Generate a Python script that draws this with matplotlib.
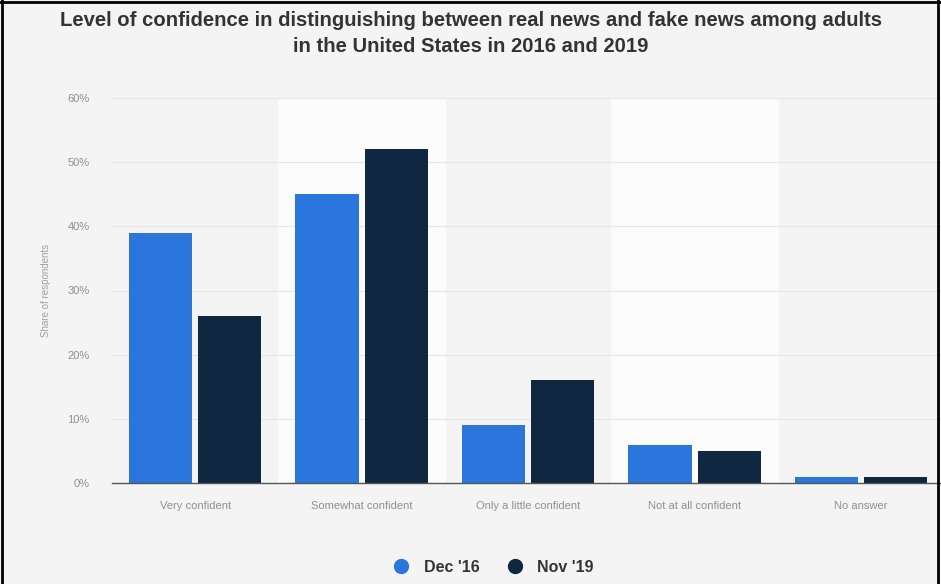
import matplotlib.pyplot as plt
from matplotlib.lines import Line2D
import numpy as np

categories = ['Very confident', 'Somewhat confident', 'Only a little confident',
              'Not at all confident', 'No answer']
dec_16 = [39, 45, 9, 6, 1]
nov_19 = [26, 52, 16, 5, 1]
series_names = ["Dec '16", "Nov '19"]
colors = ['#2a76dd', '#0f2740']

plt.rcParams['font.family'] = ['Liberation Sans', 'DejaVu Sans']

fig = plt.figure(figsize=(9.41, 5.84), dpi=100, facecolor='#f4f4f4')
ax = fig.add_axes([112 / 941, 101 / 584, 829 / 941, 385 / 584])
ax.set_facecolor('#f4f4f4')

x = np.arange(len(categories))
w = 0.38
gap = 0.018
ax.bar(x - w / 2 - gap, dec_16, width=w, color=colors[0], zorder=3)
ax.bar(x + w / 2 + gap, nov_19, width=w, color=colors[1], zorder=3)

# alternating light column bands
for i in range(len(categories)):
    if i % 2 == 1:
        ax.axvspan(i - 0.5, i + 0.5, color='#fbfbfb', zorder=0)

ax.set_xlim(-0.5, 4.48)
ax.set_ylim(0, 60)
ax.set_yticks(range(0, 61, 10))
ax.set_yticklabels([f'{v}%' for v in range(0, 61, 10)])
ax.set_xticks(x)
ax.set_xticklabels(categories)
ax.tick_params(axis='both', length=0, colors='#8f8f8f', labelsize=8)
ax.tick_params(axis='x', pad=13)
ax.tick_params(axis='y', pad=16)
ax.grid(axis='y', color='#e6e6e6', linewidth=0.8, zorder=1)
for s in ['top', 'right', 'left']:
    ax.spines[s].set_visible(False)
ax.spines['bottom'].set_color('#555555')
ax.spines['bottom'].set_linewidth(1)
ax.spines['bottom'].set_zorder(4)
ax.set_ylabel('Share of respondents', color='#a0a0a0', fontsize=7, labelpad=12)

fig.text(0.5, 1 - 20 / 584, 'Level of confidence in distinguishing between real news and fake news among adults',
         ha='center', va='center', fontsize=14.6, fontweight='bold', color='#333333')
fig.text(0.5, 1 - 47 / 584, 'in the United States in 2016 and 2019',
         ha='center', va='center', fontsize=14.6, fontweight='bold', color='#333333')

handles = [Line2D([], [], marker='o', linestyle='', markersize=10, color=c) for c in colors]
fig.legend(handles, series_names, loc='center', bbox_to_anchor=(0.52, 1 - 567 / 584),
           ncol=2, frameon=False, handletextpad=0.4, columnspacing=1.2,
           prop={'weight': 'bold', 'size': 11.5}, labelcolor='#333333')

# black frame on left, top, right
for coords in [([0.002, 0.002], [0, 1]), ([0, 1], [0.997, 0.997]), ([0.997, 0.997], [0, 1])]:
    fig.add_artist(Line2D(coords[0], coords[1], color='black', linewidth=2, transform=fig.transFigure))

fig.savefig('out.png', dpi=100, facecolor=fig.get_facecolor())
